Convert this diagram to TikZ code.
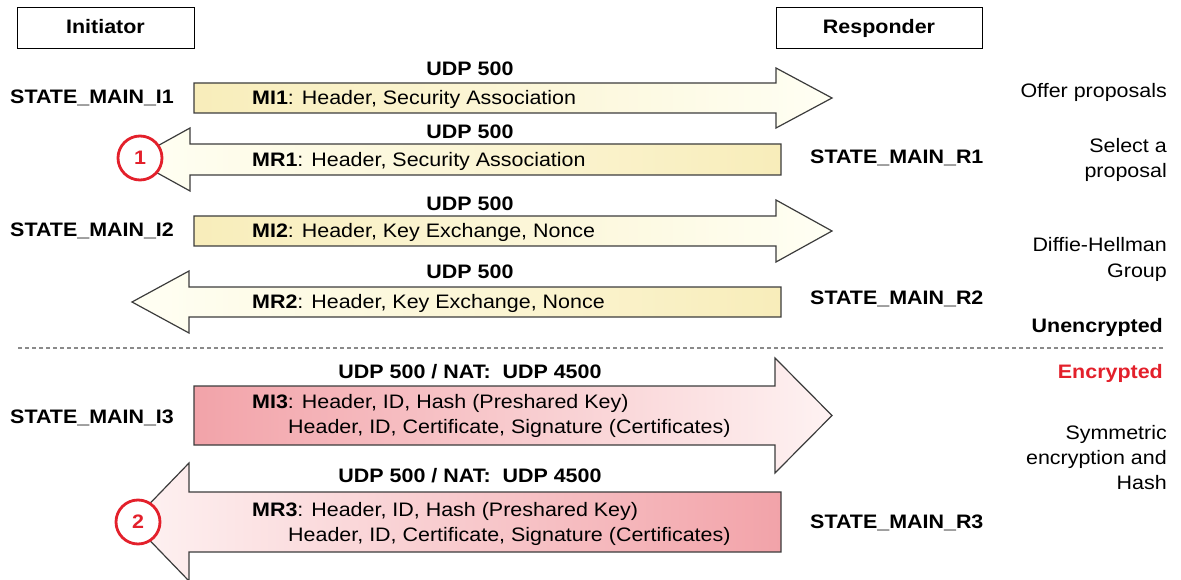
\documentclass[tikz,border=0pt]{standalone}
\usepackage{fontspec}
\setmainfont{Liberation Sans}[FakeStretch=1.1]
\usetikzlibrary{positioning}
\definecolor{EdgeGray}{HTML}{3C3C3C}
\definecolor{RuleGray}{HTML}{8A8A8A}
\definecolor{AlertRed}{HTML}{E3202B}
\definecolor{SoftCream}{HTML}{F8EDBA}
\definecolor{PaleCream}{HTML}{FFFFF4}
\definecolor{SoftPink}{HTML}{F2A3A9}
\definecolor{PalePink}{HTML}{FEF2F2}

\begin{document}
\fontsize{19.5pt}{25pt}\selectfont
\begin{tikzpicture}[
  x=1pt, y=-1pt,
  party/.style={draw=black, line width=1pt, minimum height=41pt,
    text height=14pt, text depth=4pt, font=\bfseries},
  state/.style={anchor=base west, inner sep=0pt, font=\bfseries},
  port/.style={anchor=base, inner sep=0pt, font=\bfseries},
  msg/.style={anchor=base west, inner sep=0pt, align=left},
  note/.style={anchor=base east, inner sep=0pt, align=right},
  badge/.style={circle, draw=AlertRed, line width=2.8pt, fill=white,
    minimum size=44pt, inner sep=0pt, text=AlertRed, font=\bfseries},
  creamright/.style={draw=EdgeGray, line width=1.2pt, left color=SoftCream, right color=PaleCream},
  creamleft/.style={draw=EdgeGray, line width=1.2pt, left color=PaleCream, right color=SoftCream},
  pinkright/.style={draw=EdgeGray, line width=1.2pt, left color=SoftPink, right color=PalePink},
  pinkleft/.style={draw=EdgeGray, line width=1.2pt, left color=PalePink, right color=SoftPink}
]
\useasboundingbox (0,0) rectangle (1181,580);

\node[party, minimum width=177pt] (initiator) at (105.5,28.5) {Initiator};
\node[party, minimum width=206pt] (responder) at (879,28.5) {Responder};

% main mode, unencrypted part
\draw[creamright] (194,83) -- (776,83) -- (776,68) -- (832,98) -- (776,128) -- (776,113) -- (194,113) -- cycle;
\draw[creamleft] (781,144) -- (190,144) -- (190,128) -- (133,159.5) -- (190,191) -- (190,175) -- (781,175) -- cycle;
\draw[creamright] (194,216) -- (776,216) -- (776,200) -- (832,231) -- (776,262) -- (776,246) -- (194,246) -- cycle;
\draw[creamleft] (781,287) -- (189,287) -- (189,271) -- (132,302) -- (189,333) -- (189,317) -- (781,317) -- cycle;

\node[port] (mi1port) at (470,76) {UDP 500};
\node[msg] (mi1) at (252,105) {\textbf{MI1}: Header, Security Association};
\node[port] (mr1port) at (470,139) {UDP 500};
\node[msg] (mr1) at (252,167) {\textbf{MR1}: Header, Security Association};
\node[port] (mi2port) at (470,211) {UDP 500};
\node[msg] (mi2) at (252,238) {\textbf{MI2}: Header, Key Exchange, Nonce};
\node[port] (mr2port) at (470,279) {UDP 500};
\node[msg] (mr2) at (252,308) {\textbf{MR2}: Header, Key Exchange, Nonce};

\node[state] (i1) at (10,104) {STATE\_MAIN\_I1};
\node[state] (r1) at (810,164) {STATE\_MAIN\_R1};
\node[state] (i2) at (10,237) {STATE\_MAIN\_I2};
\node[state] (r2) at (810,305) {STATE\_MAIN\_R2};

\node[badge] (badge1) at (140,158) {1};

\node[note] (offer) at (1167,98) {Offer proposals};
\node[note] (select) at (1167,178) {Select a\\proposal};
\node[note] (dh) at (1167,277) {Diffie-Hellman\\Group};
\node[note, font=\bfseries] (plain) at (1163,332) {Unencrypted};

\draw[RuleGray, line width=1.5pt, dash pattern=on 4pt off 3pt] (18,348) -- (1165,348);

% main mode, encrypted part
\node[note, font=\bfseries, text=AlertRed] (secret) at (1163,378) {Encrypted};

\draw[pinkright] (194,386) -- (775,386) -- (775,358) -- (832,415.5) -- (775,473) -- (775,445) -- (194,445) -- cycle;
\draw[pinkleft] (781,492) -- (189,492) -- (189,463) -- (132,522) -- (189,581) -- (189,552) -- (781,552) -- cycle;

\node[port] (mi3port) at (470,378) {UDP 500 / NAT:~~UDP 4500};
\node[msg] (mi3) at (252,433) {\textbf{MI3}: Header, ID, Hash (Preshared Key)\\\hspace*{36pt}Header, ID, Certificate, Signature (Certificates)};
\node[port] (mr3port) at (470,482) {UDP 500 / NAT:~~UDP 4500};
\node[msg] (mr3) at (252,541) {\textbf{MR3}: Header, ID, Hash (Preshared Key)\\\hspace*{36pt}Header, ID, Certificate, Signature (Certificates)};

\node[state] (i3) at (10,423) {STATE\_MAIN\_I3};
\node[state] (r3) at (810,528) {STATE\_MAIN\_R3};

\node[badge] (badge2) at (138,522) {2};

\node[note] (sym) at (1167,489) {Symmetric\\encryption and\\Hash};

\end{tikzpicture}
\end{document}
